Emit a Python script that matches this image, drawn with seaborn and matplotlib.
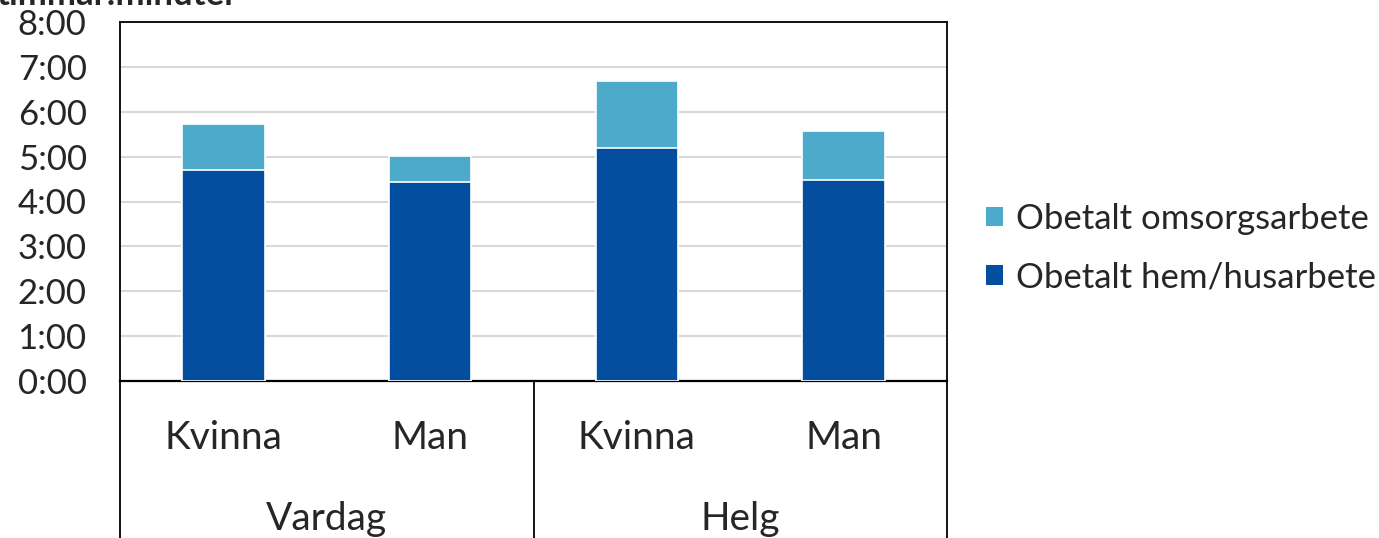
import pandas as pd
import matplotlib
matplotlib.use("Agg")
import matplotlib.pyplot as plt
import seaborn as sns
from matplotlib.patches import Patch
from matplotlib.ticker import FuncFormatter

# data (hours)
day_types = ["Vardag", "Helg"]
sexes = ["Kvinna", "Man", "Kvinna", "Man"]
hem_husarbete = [4.70, 4.43, 5.19, 4.48]
omsorgsarbete = [1.02, 0.58, 1.49, 1.09]

dark = "#044EA0"
light = "#4EAACB"

sns.set_theme(style="white")
plt.rcParams["font.family"] = ["Lato", "DejaVu Sans"]

df = pd.DataFrame({
    "grupp": [f"{d} {s}" for d, s in zip(["Vardag", "Vardag", "Helg", "Helg"], sexes)],
    "hem": hem_husarbete,
    "oms": omsorgsarbete,
})
df["total"] = df["hem"] + df["oms"]

W, H = 1379, 538
fig = plt.figure(figsize=(W / 100, H / 100), dpi=100)
ax = fig.add_axes([120 / W, (H - 381) / H, 827 / W, 359 / H])

order = list(df["grupp"])
sns.barplot(data=df, x="grupp", y="total", order=order, color=light, width=0.4,
            edgecolor="white", linewidth=1.2, saturation=1, ax=ax, zorder=3)
sns.barplot(data=df, x="grupp", y="hem", order=order, color=dark, width=0.4,
            edgecolor="white", linewidth=1.2, saturation=1, ax=ax, zorder=4)

ax.set_xlim(-0.5, 3.5)
ax.set_ylim(0, 8)
ax.set_yticks(range(0, 9))
ax.yaxis.set_major_formatter(FuncFormatter(lambda v, p: f"{int(v)}:00"))
ax.tick_params(axis="y", labelsize=25, length=0, pad=24)
ax.set_xticks([])
ax.set_xlabel("")
ax.set_ylabel("")
ax.grid(axis="y", color="#D9D9D9", linewidth=1.5, zorder=0)
for s in ax.spines.values():
    s.set_visible(True)
    s.set_color("black")
    s.set_linewidth(1.3)
ax.spines["bottom"].set_linewidth(1.6)

# category box under the plot
ax2 = fig.add_axes([120 / W, 0, 827 / W, (H - 381) / H])
ax2.set_xlim(-0.5, 3.5)
ax2.set_ylim(0, 1)
ax2.set_xticks([])
ax2.set_yticks([])
ax2.set_facecolor("none")
for side in ["top", "bottom"]:
    ax2.spines[side].set_visible(False)
for side in ["left", "right"]:
    ax2.spines[side].set_color("black")
    ax2.spines[side].set_linewidth(1.3)
ax2.axvline(1.5, color="black", linewidth=1.3)
for i, s in enumerate(sexes):
    ax2.text(i, 0.64, s, ha="center", va="center", fontsize=28)
for j, d in enumerate(day_types):
    ax2.text(0.5 + 2 * j, 0.12, d, ha="center", va="center", fontsize=28)

handles = [Patch(facecolor=light, edgecolor="none", label="Obetalt omsorgsarbete"),
           Patch(facecolor=dark, edgecolor="none", label="Obetalt hem/husarbete")]
fig.legend(handles=handles, loc="center left", bbox_to_anchor=(986 / W, (H - 248) / H),
           frameon=False, fontsize=25, handlelength=0.5, handleheight=0.5,
           handletextpad=0.35, labelspacing=0.76, borderpad=0, borderaxespad=0)

fig.text(-4 / W, 1 - 5 / H, "timmar:minuter", fontsize=25, fontweight="bold",
         ha="left", va="baseline")

fig.savefig("out.png", dpi=100)
